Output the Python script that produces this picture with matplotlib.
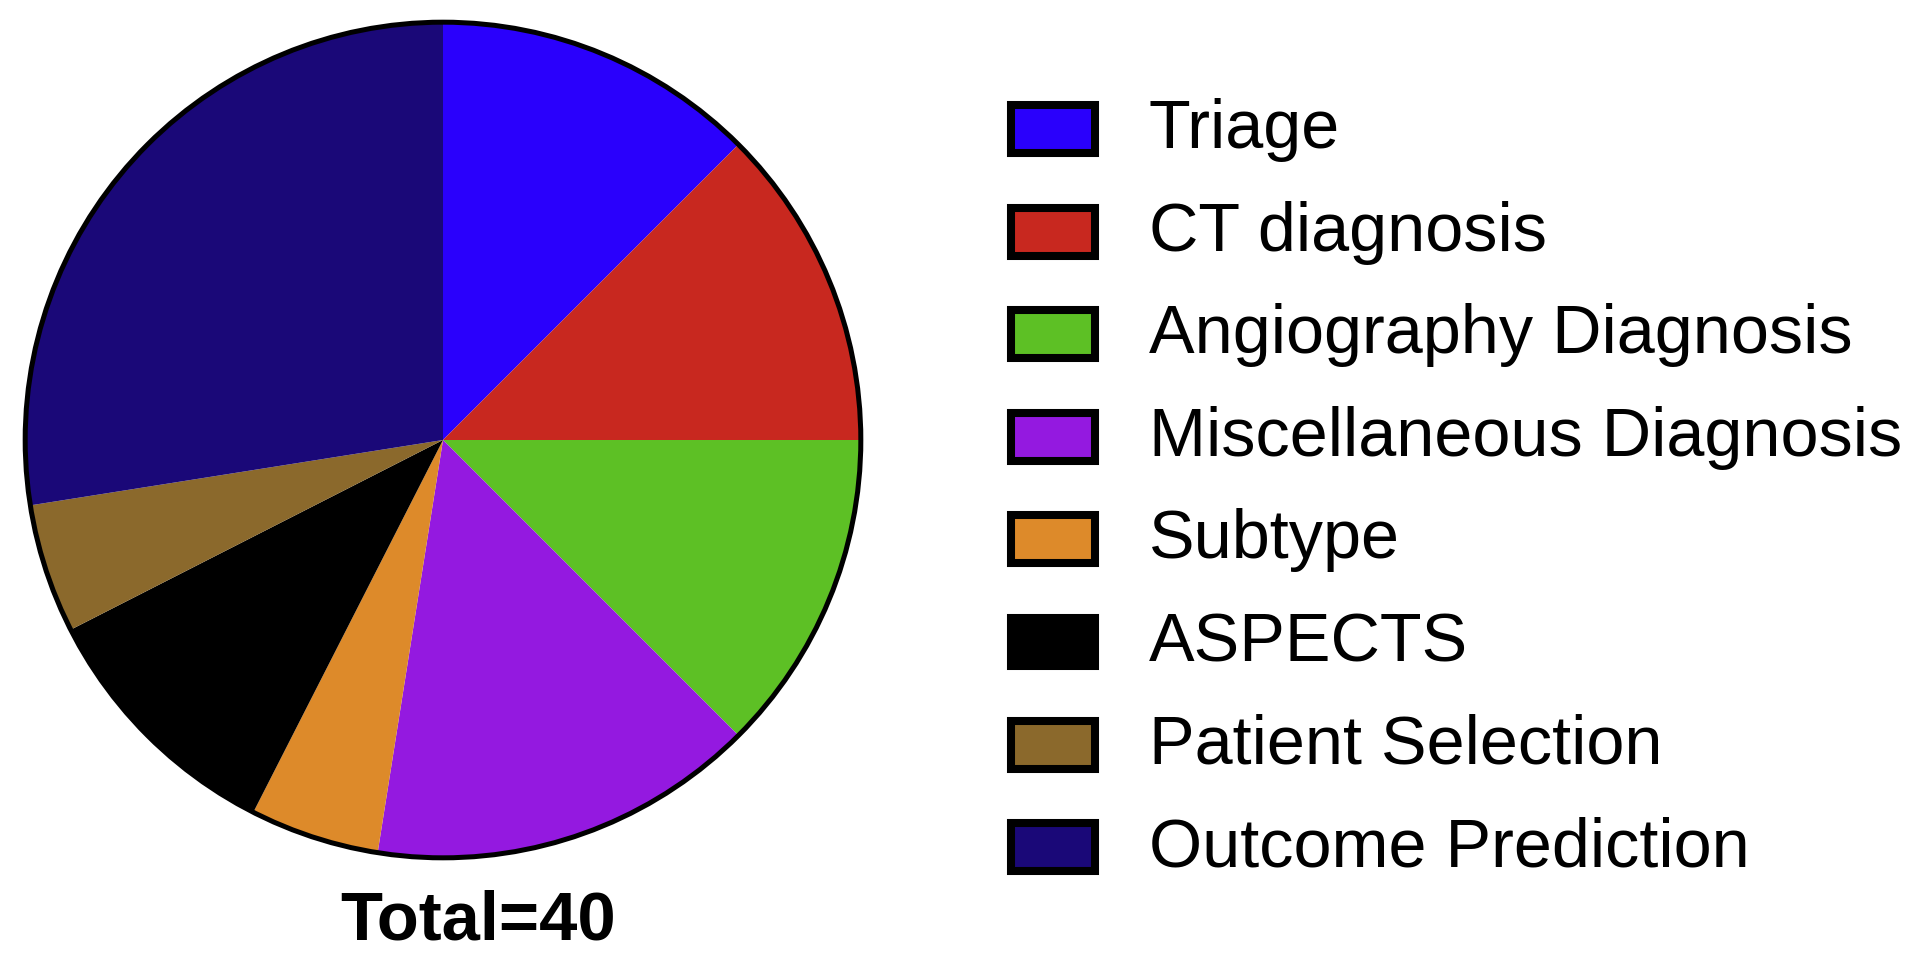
import matplotlib
matplotlib.use("Agg")
import matplotlib.pyplot as plt
from matplotlib.patches import Circle, Rectangle

categories = ["Triage", "CT diagnosis", "Angiography Diagnosis", "Miscellaneous Diagnosis",
              "Subtype", "ASPECTS", "Patient Selection", "Outcome Prediction"]
counts = [5, 5, 5, 6, 2, 4, 2, 11]
colors = ["#2A00FC", "#C8281F", "#5DC025", "#9419E0", "#DD8A2A", "#000000", "#8B692C", "#1A0878"]
total_label = "Total=" + str(sum(counts))

W, H = 1920, 961
fig = plt.figure(figsize=(W / 100, H / 100), dpi=100)
fig.patch.set_facecolor("white")

# pie axes (pixel layout)
cx, cy, r = 443, 440, 422
ax = fig.add_axes([(cx - r) / W, (H - cy - r) / H, 2 * r / W, 2 * r / H])
ax.pie(counts, colors=colors, startangle=90, counterclock=False, radius=1,
       wedgeprops=dict(linewidth=0, antialiased=True))
ax.add_patch(Circle((0, 0), 1, fill=False, edgecolor="black", linewidth=3.6))
ax.set_xlim(-1.01, 1.01)
ax.set_ylim(-1.01, 1.01)
ax.set_aspect("equal")
ax.axis("off")

# overlay axes in pixel coords for legend and total
ov = fig.add_axes([0, 0, 1, 1])
ov.set_xlim(0, W)
ov.set_ylim(H, 0)
ov.axis("off")

font = "Liberation Sans"
y0, dy = 129, 102.6
for i, (lab, col) in enumerate(zip(categories, colors)):
    yc = y0 + i * dy
    ov.add_patch(Rectangle((1011, yc - 24), 84, 48, facecolor=col, edgecolor="black",
                           linewidth=5.8))
    ov.text(1149, yc + 1, lab, fontsize=49.2, family=font, va="center", ha="left", color="black")

ov.text(478, 921, total_label, fontsize=49.5, family=font, fontweight="bold",
        ha="center", va="center", color="black")

fig.savefig("out.png", dpi=100, facecolor="white")
